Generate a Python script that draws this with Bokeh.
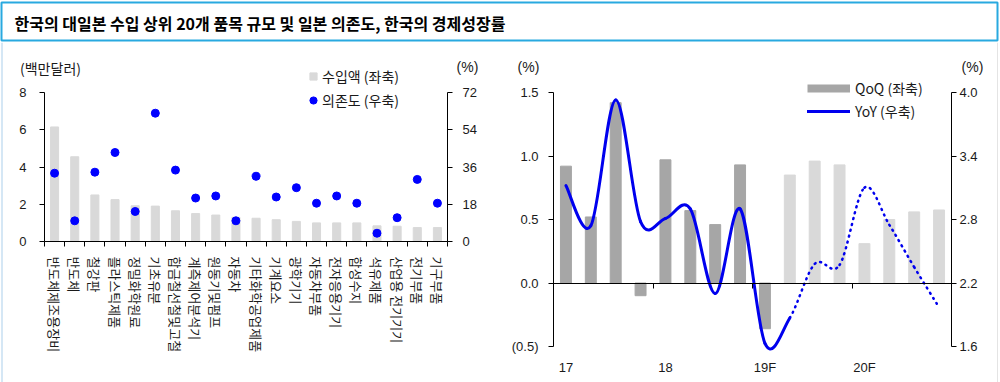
from bokeh.plotting import figure
from bokeh.models import (Range1d, LinearAxis, FixedTicker, Legend, LegendItem, Label,
                          NumeralTickFormatter, Span)
from bokeh.layouts import column, row
from bokeh.embed import file_html
from bokeh.resources import INLINE

KR = "Noto Sans CJK KR"
NUM = "Liberation Sans"
TXT = "#1a1a1a"

# ---------------- data ----------------
title_text = "한국의 대일본 수입 상위 20개 품목 규모 및 일본 의존도, 한국의 경제성장률"

items = ["반도체제조용장비", "반도체", "철강판", "플라스틱제품", "정밀화학원료", "기초유분",
         "합금철선철및고철", "계측제어분석기", "원동기및펌프", "자동차", "기타화학공업제품",
         "기계요소", "광학기기", "자동차부품", "전자응용기기", "합성수지", "석유제품",
         "산업용 전기기기", "전기부품", "기구부품"]
import_value = [6.15, 4.55, 2.5, 2.25, 1.92, 1.9, 1.65, 1.5, 1.42, 1.3, 1.25,
                1.17, 1.08, 1.0, 1.0, 1.0, 0.84, 0.82, 0.75, 0.75]
dependence = [33.0, 10.0, 33.5, 43.0, 14.5, 62.0, 34.5, 21.0, 22.0, 10.0, 31.5,
              21.5, 26.0, 18.5, 22.0, 18.5, 4.0, 11.5, 30.0, 18.5]
left_legend = ["수입액 (좌축)", "의존도 (우축)"]
left_unit = "(백만달러)"
pct_unit = "(%)"
left_ticks = [0, 2, 4, 6, 8]
dep_ticks = [0, 18, 36, 54, 72]

quarters = ["17.1Q", "17.2Q", "17.3Q", "17.4Q", "18.1Q", "18.2Q", "18.3Q", "18.4Q",
            "19.1Q", "19.2QF", "19.3QF", "19.4QF", "20.1QF", "20.2QF", "20.3QF", "20.4QF"]
qoq = [0.92, 0.52, 1.42, -0.10, 0.97, 0.57, 0.46, 0.93,
       -0.36, 0.85, 0.96, 0.93, 0.31, 0.50, 0.56, 0.575]
yoy = [3.12, 2.74, 3.93, 2.78, 2.81, 2.90, 2.10, 2.90,
       1.63, 1.87, 2.38, 2.37, 3.10, 2.75, 2.35, 1.97]
actual_count = 9        # QoQ actual through 19.1Q
yoy_solid_count = 10    # YoY solid through 19.2Q, dotted afterwards
year_labels = ["17", "18", "19F", "20F"]
right_legend = ["QoQ (좌축)", "YoY (우축)"]
qoq_ticks = [-0.5, 0, 0.5, 1.0, 1.5]
yoy_ticks = [1.6, 2.2, 2.8, 3.4, 4.0]

# ---------------- layout (page pixels) ----------------
PAGE_W, PAGE_H = 1000, 382
TITLE_H = 42
SPLIT = 500
L_X0, L_X1, L_YTOP, L_Y0 = 44, 447, 92, 241     # left chart value area
R_X0, R_X1, R_YTOP, R_YBOT = 553, 951, 92, 346  # right chart value area


def px_range(v0, p0, v1, p1, c0, c1):
    """range whose ends fall on pixels c0, c1 when v0 sits at p0 and v1 at p1"""
    s = (v1 - v0) / (p1 - p0)
    return Range1d(v0 + (c0 - p0) * s, v0 + (c1 - p0) * s)


def px_val(v0, p0, v1, p1, p):
    return v0 + (p - p0) * (v1 - v0) / (p1 - p0)


def style_axis(ax, font=NUM, size="13px", standoff=10):
    ax.axis_line_color = "black"
    ax.axis_line_width = 1
    ax.major_tick_line_color = "black"
    ax.major_tick_out = 5
    ax.major_tick_in = 0
    ax.minor_tick_line_color = None
    ax.major_label_text_font = font
    ax.major_label_text_font_size = size
    ax.major_label_text_color = TXT
    ax.major_label_standoff = standoff


def base_fig(width, xr, yr):
    p = figure(width=width, height=PAGE_H - TITLE_H, x_range=xr, y_range=yr,
               x_axis_location=None, y_axis_location=None, min_border=0,
               output_backend="svg", toolbar_location=None)
    p.outline_line_color = None
    p.xgrid.grid_line_color = None
    p.ygrid.grid_line_color = None
    return p


# ---------------- title ----------------
pt = figure(width=PAGE_W, height=TITLE_H, x_range=Range1d(0, 1), y_range=Range1d(0, 1),
            x_axis_location=None, y_axis_location=None,
            output_backend="svg", toolbar_location=None,
            min_border_left=1, min_border_right=3, min_border_top=2, min_border_bottom=2)
pt.outline_line_color = "#29a9e0"
pt.outline_line_width = 2
pt.xgrid.grid_line_color = None
pt.ygrid.grid_line_color = None
pt.add_layout(Label(x=0.013, y=0.47, text=title_text,
                    text_font=KR, text_font_style="bold", text_font_size="16px",
                    text_baseline="middle", text_color="black"))

# ---------------- left chart ----------------
n = len(items)
xs = [i + 0.5 for i in range(n)]
ymax = left_ticks[-1]
dmax = dep_ticks[-1]
top_px, bot_px = TITLE_H, PAGE_H
p1 = base_fig(SPLIT,
              px_range(0, L_X0, n, L_X1, 0, SPLIT),
              px_range(0, L_Y0, ymax, L_YTOP, bot_px, top_px))
p1.extra_y_ranges = {"dep": px_range(0, L_Y0, dmax, L_YTOP, bot_px, top_px)}

# faint page edge line
p1.add_layout(Span(location=px_val(0, L_X0, n, L_X1, 1.5), dimension="height",
                   line_color="#d5e7f5", line_width=2))

p1.vbar(x=xs, top=import_value, width=0.4, color="#d9d9d9")
sq = p1.scatter(x=xs, y=import_value, marker="square", color="#d9d9d9", size=0)
dots = p1.scatter(x=xs, y=dependence, y_range_name="dep", size=8, color="#0000ff")

ya = LinearAxis(fixed_location=0, bounds=(0, ymax), ticker=FixedTicker(ticks=left_ticks))
style_axis(ya, standoff=13)
p1.add_layout(ya, "left")
ra = LinearAxis(y_range_name="dep", fixed_location=n, bounds=(0, dmax),
                ticker=FixedTicker(ticks=dep_ticks))
style_axis(ra, standoff=10)
p1.add_layout(ra, "right")

xa = LinearAxis(fixed_location=0, bounds=(0, n),
                ticker=FixedTicker(ticks=xs, minor_ticks=list(range(n + 1))))
style_axis(xa, font=KR, size="13px", standoff=10)
xa.major_label_overrides = {x: lab for x, lab in zip(xs, items)}
xa.major_tick_line_color = None
xa.minor_tick_line_color = "black"
xa.minor_tick_out = 5
xa.minor_tick_in = 0
xa.major_label_orientation = "vertical"
p1.add_layout(xa, "below")

leg1 = Legend(items=[LegendItem(label=left_legend[0], renderers=[sq]),
                     LegendItem(label=left_legend[1], renderers=[dots])],
              location=(304, PAGE_H - 110), orientation="vertical", padding=0, margin=0,
              spacing=4, glyph_width=18, glyph_height=20, label_height=20, label_standoff=0,
              label_text_font=KR, label_text_font_size="14px", label_text_color=TXT,
              border_line_color=None, background_fill_alpha=0)
p1.add_layout(leg1)

p1.add_layout(Label(x=px_val(0, L_X0, n, L_X1, 50), y=px_val(0, L_Y0, ymax, L_YTOP, 67.5),
                    text=left_unit, text_font=KR, text_font_size="14px", text_color=TXT,
                    text_align="center", text_baseline="middle"))
p1.add_layout(Label(x=px_val(0, L_X0, n, L_X1, 467), y=px_val(0, L_Y0, ymax, L_YTOP, 66.5),
                    text=pct_unit, text_font=NUM, text_font_size="14px", text_color=TXT,
                    text_align="center", text_baseline="middle"))

# ---------------- right chart ----------------
m = len(quarters)
qx = [i + 0.5 for i in range(m)]
q0, q1 = qoq_ticks[0], qoq_ticks[-1]
y0, y1 = yoy_ticks[0], yoy_ticks[-1]
p2 = base_fig(PAGE_W - SPLIT,
              px_range(0, R_X0, m, R_X1, SPLIT, PAGE_W),
              px_range(q0, R_YBOT, q1, R_YTOP, bot_px, top_px))
p2.extra_y_ranges = {"yoy": px_range(y0, R_YBOT, y1, R_YTOP, bot_px, top_px)}

p2.add_layout(Span(location=px_val(0, R_X0, m, R_X1, 997), dimension="height",
                   line_color="#e4e4e4", line_width=1))

bar_colors = ["#a6a6a6" if i < actual_count else "#d9d9d9" for i in range(m)]
p2.vbar(x=qx, top=qoq, width=0.44, color=bar_colors)
qoq_leg = p2.line(x=qx, y=qoq, line_color="#a6a6a6", line_width=8, visible=False)


def bezier_segments(xv, yv):
    k = len(xv)
    out = {key: [] for key in ("x0", "y0", "x1", "y1", "cx0", "cy0", "cx1", "cy1")}
    for i in range(k - 1):
        a = max(i - 1, 0)
        d = min(i + 2, k - 1)
        out["x0"].append(xv[i]); out["y0"].append(yv[i])
        out["x1"].append(xv[i + 1]); out["y1"].append(yv[i + 1])
        out["cx0"].append(xv[i] + (xv[i + 1] - xv[a]) / 6)
        out["cy0"].append(yv[i] + (yv[i + 1] - yv[a]) / 6)
        out["cx1"].append(xv[i + 1] - (xv[d] - xv[i]) / 6)
        out["cy1"].append(yv[i + 1] - (yv[d] - yv[i]) / 6)
    return out


segs = bezier_segments(qx, yoy)
ns = yoy_solid_count - 1
solid = {k: v[:ns] for k, v in segs.items()}
dotted = {k: v[ns:] for k, v in segs.items()}
yoy_solid = p2.bezier(y_range_name="yoy", line_color="#0000ee", line_width=3,
                      line_cap="round", **solid)
p2.bezier(y_range_name="yoy", line_color="#0000ee", line_width=2.5,
          line_dash="1 5", line_cap="round", **dotted)

ly = LinearAxis(fixed_location=0, bounds=(q0, q1), ticker=FixedTicker(ticks=qoq_ticks),
                formatter=NumeralTickFormatter(format="(0.0)"))
style_axis(ly, standoff=10)
p2.add_layout(ly, "left")
ry = LinearAxis(y_range_name="yoy", fixed_location=m, bounds=(y0, y1),
                ticker=FixedTicker(ticks=yoy_ticks), formatter=NumeralTickFormatter(format="0.0"))
style_axis(ry, standoff=3)
p2.add_layout(ry, "right")

za = LinearAxis(fixed_location=0, bounds=(0, m),
                ticker=FixedTicker(ticks=[4 * k for k in range(1, len(year_labels))]))
style_axis(za)
za.major_label_text_color = None
p2.add_layout(za, "below")

year_pos = [4 * k + 0.5 for k in range(len(year_labels))]
bx = LinearAxis(fixed_location=q0, ticker=FixedTicker(ticks=year_pos))
style_axis(bx, standoff=13)
bx.major_label_overrides = {x: lab for x, lab in zip(year_pos, year_labels)}
bx.axis_line_color = None
bx.major_tick_line_color = None
bx.major_tick_out = 0
p2.add_layout(bx, "below")

leg2 = Legend(items=[LegendItem(label=right_legend[0], renderers=[qoq_leg]),
                     LegendItem(label=right_legend[1], renderers=[yoy_solid])],
              location=(807 - SPLIT, PAGE_H - 121), orientation="vertical", padding=0, margin=0,
              spacing=3, glyph_width=43, glyph_height=20, label_height=20, label_standoff=5,
              label_text_font=KR, label_text_font_size="14px", label_text_color=TXT,
              border_line_color=None, background_fill_alpha=0)
p2.add_layout(leg2)

for px in (528, 972):
    p2.add_layout(Label(x=px_val(0, R_X0, m, R_X1, px), y=px_val(q0, R_YBOT, q1, R_YTOP, 66),
                        text=pct_unit, text_font=NUM, text_font_size="14px", text_color=TXT,
                        text_align="center", text_baseline="middle"))

layout = column(pt, row(p1, p2))
open("out.html", "w").write(file_html(layout, INLINE, title="chart"))
